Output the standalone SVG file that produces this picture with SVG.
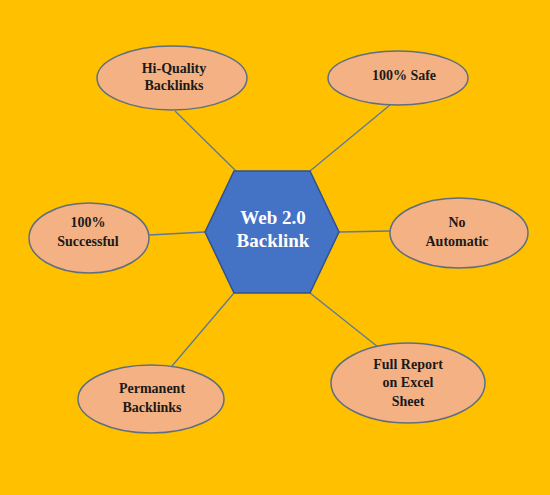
<svg xmlns="http://www.w3.org/2000/svg" width="550" height="495" viewBox="0 0 550 495">
<style>
.bg{fill:#FFC000}
.node ellipse{fill:#F4B183;stroke:#5F6F80;stroke-width:1.5}
.lbl{font-family:"Liberation Serif","Times New Roman",serif;font-weight:bold;font-size:14px;fill:#1a1a1a;text-anchor:middle}
.hub{font-family:"Liberation Serif","Times New Roman",serif;font-weight:bold;font-size:19px;fill:#FFFFFF;text-anchor:middle}
#connectors line{stroke:#5B7A99;stroke-width:1.3}
</style>
<rect class="bg" x="0" y="0" width="550" height="495"/>
<g id="connectors">
<line x1="175" y1="111" x2="236" y2="171"/>
<line x1="390" y1="105" x2="310" y2="171"/>
<line x1="149" y1="235" x2="205" y2="232"/>
<line x1="339" y1="232" x2="390" y2="231"/>
<line x1="172" y1="366" x2="234" y2="293"/>
<line x1="378" y1="347" x2="310" y2="293"/>
</g>
<g id="hub">
<polygon points="234,171 310,171 339,232 310,293 234,293 205,232" fill="#4472C4" stroke="#2F528F" stroke-width="1.5"/>
<text class="hub" x="273" y="224">Web 2.0</text>
<text class="hub" x="273" y="247">Backlink</text>
</g>
<g id="n-hiquality" class="node">
<ellipse cx="172" cy="78" rx="75" ry="32"/>
<text class="lbl" x="174" y="73">Hi-Quality</text>
<text class="lbl" x="174" y="90">Backlinks</text>
</g>
<g id="n-safe" class="node">
<ellipse cx="398" cy="78" rx="70" ry="27"/>
<text class="lbl" x="404" y="80">100% Safe</text>
</g>
<g id="n-successful" class="node">
<ellipse cx="89" cy="238" rx="60" ry="35"/>
<text class="lbl" x="88" y="227">100%</text>
<text class="lbl" x="88" y="246">Successful</text>
</g>
<g id="n-noauto" class="node">
<ellipse cx="459" cy="233" rx="69" ry="35"/>
<text class="lbl" x="457" y="227">No</text>
<text class="lbl" x="457" y="246">Automatic</text>
</g>
<g id="n-permanent" class="node">
<ellipse cx="151" cy="399" rx="73" ry="34"/>
<text class="lbl" x="152" y="393">Permanent</text>
<text class="lbl" x="152" y="412">Backlinks</text>
</g>
<g id="n-report" class="node">
<ellipse cx="408" cy="383" rx="77" ry="40"/>
<text class="lbl" x="408" y="369">Full Report</text>
<text class="lbl" x="408" y="387">on Excel</text>
<text class="lbl" x="408" y="406">Sheet</text>
</g>
</svg>
